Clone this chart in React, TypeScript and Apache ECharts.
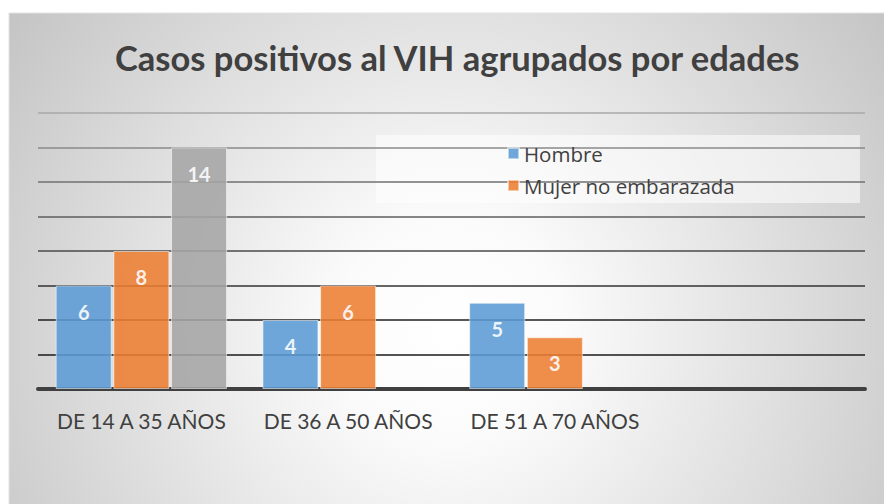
import React, { useEffect, useRef } from "react";
import * as echarts from "echarts";

const categories = ["DE 14 A 35 AÑOS", "DE 36 A 50 AÑOS", "DE 51 A 70 AÑOS", ""];
const hombre = [6, 4, 5, "-"];
const mujerNoEmb = [8, 6, 3, "-"];
const tercera = [14, "-", "-", "-"];
const legendNames = ["Hombre", "Mujer no embarazada"];
const titleText = "Casos positivos al VIH agrupados por edades";

export default function App() {
  const ref = useRef<HTMLDivElement>(null);
  useEffect(() => {
    if (!ref.current) return;
    const chart = echarts.init(ref.current, undefined, { renderer: "svg" });
    const label = {
      show: true,
      position: "insideTop" as const,
      distance: 16,
      color: "#ffffff",
      fontSize: 20,
      fontWeight: "bold" as const,
      fontFamily: "Lato, sans-serif",
    };
    const item = (c: string) => ({
      color: c,
      opacity: 0.88,
      borderColor: "rgba(255,255,255,0.6)",
      borderWidth: 1,
    });
    chart.setOption({
      animation: false,
      backgroundColor: "#ffffff",
      graphic: [
        {
          type: "rect",
          z: -10,
          shape: { x: 9, y: 13, width: 880, height: 495 },
          style: {
            fill: new echarts.graphic.RadialGradient(450, 330, 560, [
              { offset: 0, color: "#ffffff" },
              { offset: 0.2, color: "#fbfbfb" },
              { offset: 1, color: "#c2c2c2" },
            ], true),
            stroke: "#e2e2e2",
            lineWidth: 1,
          },
        },
        {
          type: "rect",
          z: -9,
          shape: { x: 376, y: 135, width: 484, height: 68 },
          style: { fill: "rgba(255,255,255,0.55)" },
        },
      ],
      title: {
        text: titleText,
        left: 110,
        top: 35,
        textStyle: {
          fontFamily: "Lato, sans-serif",
          fontWeight: "bold",
          fontSize: 34.5,
          color: "#404040",
        },
      },
      legend: {
        data: legendNames,
        orient: "vertical",
        left: 502,
        top: 138,
        itemWidth: 11,
        itemHeight: 11,
        itemGap: 11,
        icon: "rect",
        textStyle: { fontFamily: "'Open Sans', sans-serif", fontSize: 20.5, color: "#404040" },
      },
      grid: { left: 38, right: 19, top: 113, bottom: 115, containLabel: false },
      xAxis: {
        type: "category",
        data: categories,
        axisLine: { show: true, lineStyle: { color: "#404040", width: 4 } },
        axisTick: { show: false },
        axisLabel: {
          interval: 0,
          margin: 21,
          fontFamily: "Lato, sans-serif",
          fontSize: 21,
          color: "#404040",
        },
      },
      yAxis: {
        type: "value",
        min: 0,
        max: 16,
        interval: 2,
        axisLine: { show: false },
        axisTick: { show: false },
        axisLabel: { show: false },
        splitLine: {
          show: true,
          lineStyle: {
            width: 1.6,
            color: ["#1a1a1a", "#1a1a1a", "#1f1f1f", "#333333", "#4a4a4a", "#5e5e5e", "#707070", "#8a8a8a", "#a8a8a8"],
          },
        },
      },
      series: [
        { name: "Hombre", type: "bar", data: hombre, barWidth: 56, barGap: "3%", itemStyle: item("#5B9BD5"), label },
        { name: "Mujer no embarazada", type: "bar", data: mujerNoEmb, barWidth: 56, barGap: "3%", itemStyle: item("#ED7D31"), label },
        { name: "Mujer embarazada", type: "bar", data: tercera, barWidth: 56, barGap: "3%", itemStyle: item("#A5A5A5"), label },
      ],
    });
    return () => chart.dispose();
  }, []);
  return (
    <div
      ref={ref}
      style={{ position: "fixed", left: 0, top: 0, width: 884, height: 504 }}
    />
  );
}
